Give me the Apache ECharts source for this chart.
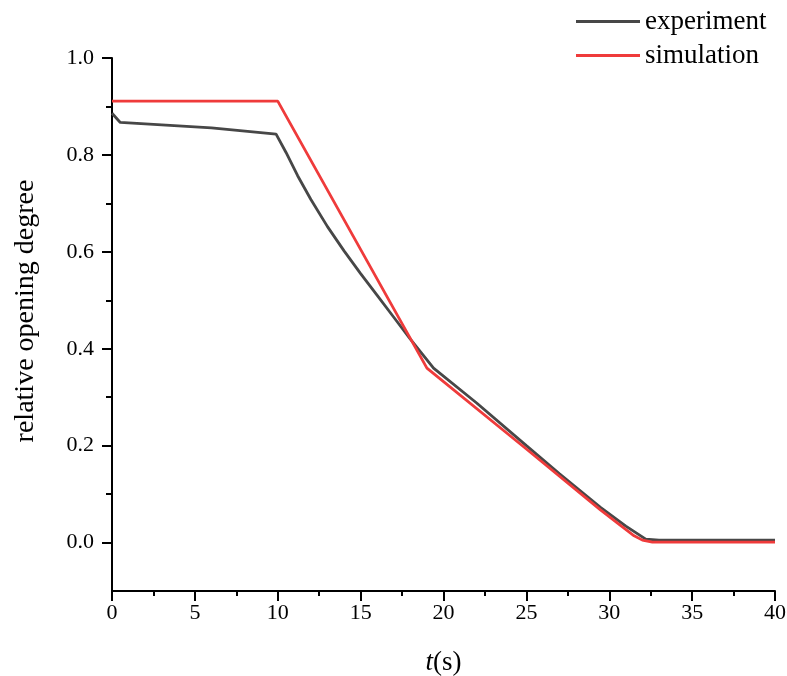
<!DOCTYPE html>
<html>
<head>
<meta charset="utf-8">
<script src="https://cdn.jsdelivr.net/npm/echarts@6/dist/echarts.min.js"></script>
<style>html,body{margin:0;padding:0;background:#fff}#c{width:787px;height:676px}</style>
</head>
<body>
<div id="c"></div>
<script>
var expT = [0, 0.5, 3, 6, 9.9, 10.5, 11.2, 12, 13, 14, 15, 16, 17, 18, 19.4, 22, 25, 27, 29.45, 31, 32.2, 33, 36, 40];
var expV = [0.886, 0.867, 0.862, 0.856, 0.843, 0.805, 0.757, 0.708, 0.652, 0.602, 0.555, 0.51, 0.465, 0.42, 0.36, 0.288, 0.2, 0.142, 0.073, 0.034, 0.007, 0.005, 0.005, 0.005];
var simT = [0, 10, 19, 25, 29.45, 30.5, 31.5, 32, 32.6, 36, 40];
var simV = [0.911, 0.911, 0.36, 0.193, 0.068, 0.04, 0.014, 0.005, 0.001, 0.001, 0.001];
var yMajor = [0, 0.2, 0.4, 0.6, 0.8, 1.0];
var yMinor = [0.1, 0.3, 0.5, 0.7, 0.9];

function pairs(t, v) { return t.map(function (x, i) { return [x, v[i]]; }); }

var font = 'Liberation Serif';
var chart = echarts.init(document.getElementById('c'));
chart.setOption({
  backgroundColor: '#fff',
  animation: false,
  textStyle: { fontFamily: font },
  grid: { left: 112, right: 12, top: 58, bottom: 85, containLabel: false, outerBoundsMode: 'none' },
  legend: {
    orient: 'vertical', left: 571, top: 3, itemWidth: 64, itemHeight: 3, itemGap: 7,
    icon: 'rect',
    textStyle: { fontFamily: font, fontSize: 27, lineHeight: 27, color: '#000', padding: [0, 0, 0, 0] },
    data: ['experiment', 'simulation']
  },
  xAxis: {
    type: 'value', min: 0, max: 40, interval: 5,
    name: '{i|t}(s)', nameLocation: 'middle', nameGap: 58,
    nameTextStyle: { fontFamily: font, fontSize: 27, color: '#000', rich: { i: { fontStyle: 'italic', fontFamily: font, fontSize: 27 } } },
    axisLine: { show: true, onZero: false, lineStyle: { color: '#000', width: 2 } },
    axisTick: { show: true, inside: false, length: 10, lineStyle: { color: '#000', width: 2 } },
    minorTick: { show: true, splitNumber: 2, length: 5, lineStyle: { color: '#000', width: 2 } },
    axisLabel: { fontFamily: font, fontSize: 22, color: '#000', margin: 11 },
    splitLine: { show: false }
  },
  yAxis: [{
    type: 'value', min: -0.1, max: 1.0,
    name: 'relative opening degree', nameLocation: 'middle', nameGap: 72, nameRotate: 90,
    nameTextStyle: { fontFamily: font, fontSize: 28, color: '#000', padding: [0, 0, 0, 27] },
    axisLine: { show: true, onZero: false, lineStyle: { color: '#000', width: 2 } },
    axisTick: { show: true, length: 10, customValues: yMajor, lineStyle: { color: '#000', width: 2 } },
    axisLabel: { fontFamily: font, fontSize: 22, color: '#000', margin: 18, customValues: yMajor,
      formatter: function (v) { return v.toFixed(1); } },
    splitLine: { show: false }
  }, {
    type: 'value', min: -0.1, max: 1.0, position: 'left',
    axisLine: { show: false },
    axisTick: { show: true, length: 6, customValues: yMinor, lineStyle: { color: '#000', width: 2 } },
    axisLabel: { show: false },
    splitLine: { show: false }
  }],
  series: [{
    name: 'experiment', type: 'line', showSymbol: false, symbol: 'none',
    data: pairs(expT, expV),
    lineStyle: { color: '#474747', width: 2.8 }, itemStyle: { color: '#474747' }
  }, {
    name: 'simulation', type: 'line', showSymbol: false, symbol: 'none', smooth: false,
    data: pairs(simT, simV),
    lineStyle: { color: '#ef3b3b', width: 2.8 }, itemStyle: { color: '#ef3b3b' }
  }]
});
</script>
</body>
</html>
